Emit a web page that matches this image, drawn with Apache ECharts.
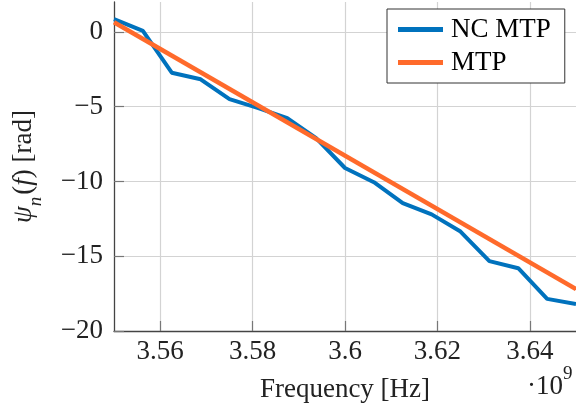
<!DOCTYPE html>
<html><head><meta charset="utf-8">
<script src="https://cdn.jsdelivr.net/npm/echarts@6/dist/echarts.min.js"></script>
<style>html,body{margin:0;padding:0;background:#fff}#c{width:576px;height:412px}</style>
</head><body><div id="c"></div>
<script>
const freq = [3.55, 3.55625, 3.5625, 3.56875, 3.575, 3.58125, 3.5875, 3.59375, 3.6, 3.60625, 3.6125, 3.61875, 3.625, 3.63125, 3.6375, 3.64375, 3.65];
const ncMtp = [0.85, 0.07, -2.73, -3.17, -4.5, -5.1, -5.77, -7.1, -9.1, -10.05, -11.45, -12.2, -13.35, -15.33, -15.8, -17.85, -18.2];
const mtpFreq = [3.55, 3.65];
const mtp = [0.65, -17.2];
const xTicks = [3.56, 3.58, 3.6, 3.62, 3.64];
const yTicks = [-20, -15, -10, -5, 0];
const seriesNames = ['NC MTP', 'MTP'];

const FONT = 'Liberation Serif';
const FS = 27;
const chart = echarts.init(document.getElementById('c'), null, {renderer: 'canvas'});
chart.setOption({
  animation: false,
  backgroundColor: '#fff',
  grid: {left: 114, top: 2, right: 0, bottom: 81, containLabel: false, outerBoundsMode: 'none'},
  legend: {
    data: seriesNames,
    orient: 'vertical',
    left: 387, top: 9,
    padding: [7, 14, 7, 11],
    itemGap: 6,
    itemWidth: 45, itemHeight: 5,
    icon: 'rect',
    borderColor: '#333', borderWidth: 1,
    backgroundColor: '#fff',
    textStyle: {fontFamily: FONT, fontSize: FS, color: '#000', padding: [0, 0, 0, 3]}
  },
  xAxis: {
    type: 'value', min: 3.55, max: 3.65,
    name: 'Frequency [Hz]', nameLocation: 'middle', nameGap: 45,
    nameTextStyle: {fontFamily: FONT, fontSize: FS, color: '#222'},
    axisLine: {show: true, onZero: false, lineStyle: {color: '#444', width: 1.3}},
    axisTick: {show: true, inside: true, length: 10, customValues: xTicks, lineStyle: {color: '#777', width: 1.2}},
    axisLabel: {customValues: xTicks, margin: 7, fontFamily: FONT, fontSize: FS, color: '#222',
      formatter: v => String(+(+v).toFixed(2))},
    splitLine: {show: true, lineStyle: {color: '#d3d3d3', width: 1.2}}
  },
  yAxis: {
    type: 'value', min: -20, max: 2,
    name: '{i|ψ}{s|n}{r|(}{i|f}{r|) [rad]}', nameLocation: 'middle', nameGap: 77,
    nameTextStyle: {fontFamily: FONT, fontSize: FS, color: '#222',
      rich: {
        i: {fontFamily: FONT, fontSize: FS, fontStyle: 'italic', color: '#222'},
        r: {fontFamily: FONT, fontSize: FS, color: '#222'},
        s: {fontFamily: FONT, fontSize: 19, fontStyle: 'italic', color: '#222', verticalAlign: 'bottom', padding: [0, 2, -8, 0]}
      }},
    axisLine: {show: true, onZero: false, lineStyle: {color: '#444', width: 1.3}},
    axisTick: {show: true, inside: true, length: 10, customValues: yTicks, lineStyle: {color: '#777', width: 1.2}},
    axisLabel: {customValues: yTicks, margin: 11, fontFamily: FONT, fontSize: FS, color: '#222',
      formatter: v => (v < 0 ? '\u2212' + Math.abs(v) : String(v))},
    splitLine: {show: true, lineStyle: {color: '#d3d3d3', width: 1.2}}
  },
  graphic: [
    {type: 'text', right: 13, top: 373, style: {text: '\u00b710', fontFamily: FONT, fontSize: FS, fill: '#222'}},
    {type: 'text', left: 563, top: 365, style: {text: '9', fontFamily: FONT, fontSize: 19, fill: '#222'}}
  ],
  series: [
    {name: seriesNames[0], type: 'line', data: freq.map((f, i) => [f, ncMtp[i]]),
      showSymbol: false, symbol: 'none', color: '#0072BD', lineStyle: {width: 4, color: '#0072BD'}, z: 2},
    {name: seriesNames[1], type: 'line', data: mtpFreq.map((f, i) => [f, mtp[i]]),
      showSymbol: false, symbol: 'none', color: '#FF6A2B', lineStyle: {width: 4.5, color: '#FF6A2B'}, z: 3}
  ]
});
</script></body></html>
